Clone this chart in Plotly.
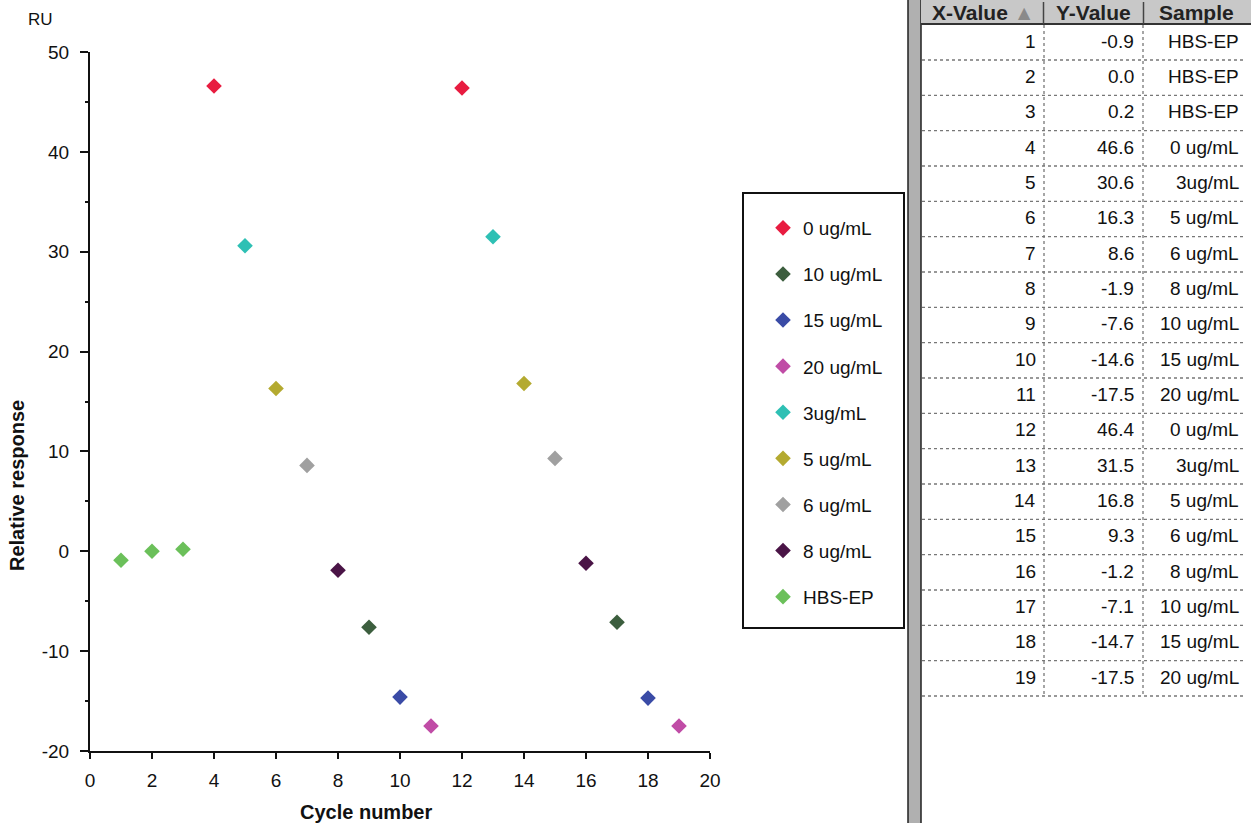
import plotly.graph_objects as go

# ---------------- data ----------------
cycle = [1, 2, 3, 4, 5, 6, 7, 8, 9, 10, 11, 12, 13, 14, 15, 16, 17, 18, 19]
response = [-0.9, 0.0, 0.2, 46.6, 30.6, 16.3, 8.6, -1.9, -7.6, -14.6, -17.5,
            46.4, 31.5, 16.8, 9.3, -1.2, -7.1, -14.7, -17.5]
sample = ["HBS-EP", "HBS-EP", "HBS-EP", "0 ug/mL", "3ug/mL", "5 ug/mL", "6 ug/mL",
          "8 ug/mL", "10 ug/mL", "15 ug/mL", "20 ug/mL", "0 ug/mL", "3ug/mL",
          "5 ug/mL", "6 ug/mL", "8 ug/mL", "10 ug/mL", "15 ug/mL", "20 ug/mL"]
legend_order = ["0 ug/mL", "10 ug/mL", "15 ug/mL", "20 ug/mL", "3ug/mL",
                "5 ug/mL", "6 ug/mL", "8 ug/mL", "HBS-EP"]
colors = {
    "0 ug/mL": "#e81c40",
    "10 ug/mL": "#3c5e3e",
    "15 ug/mL": "#3a4ba6",
    "20 ug/mL": "#c04ca6",
    "3ug/mL": "#2ec0b4",
    "5 ug/mL": "#b4aa30",
    "6 ug/mL": "#a0a0a0",
    "8 ug/mL": "#4a1446",
    "HBS-EP": "#6bc05a",
}
x_ticks = [0, 2, 4, 6, 8, 10, 12, 14, 16, 18, 20]
y_ticks = [-20, -10, 0, 10, 20, 30, 40, 50]
y_ticktext = ["-20", "-10", "0", "10", "20", "30", "40", "50"]
y_minor = [-15, -5, 5, 15, 25, 35, 45]
table_headers = ["X-Value <span style='color:#8a8a8a'>▲</span>", "Y-Value", "Sample"]

FONT = "Liberation Sans, Arial, sans-serif"
W, H = 1251, 823
L, R, T, B = 90, 710, 52, 751


def px(xp):
    return (xp - L) / (R - L)


def py(yp):
    return (B - yp) / (B - T)


fig = go.Figure()
for name in legend_order:
    xs = [c for c, s in zip(cycle, sample) if s == name]
    ys = [v for v, s in zip(response, sample) if s == name]
    fig.add_trace(go.Scatter(
        x=xs, y=ys, mode="markers", name=name, legendgroup=name,
        marker=dict(symbol="diamond", size=12, color=colors[name], line=dict(width=0)),
    ))

annotations = []
shapes = []


def ann(text, xp, yp, size, xanchor="center", angle=0, color="#111"):
    annotations.append(dict(text=text, x=px(xp), y=py(yp), xref="paper", yref="paper",
                            xanchor=xanchor, yanchor="middle", showarrow=False,
                            textangle=angle,
                            font=dict(family=FONT, size=size, color=color)))


# axis texts
ann("RU", 40, 20, 17)
ann("<b>Relative response</b>", 17, 486, 20, angle=-90)
ann("<b>Cycle number</b>", 366, 812, 20)

# legend box
shapes.append(dict(type="rect", xref="paper", yref="paper", x0=px(743), x1=px(904),
                   y0=py(193), y1=py(628), fillcolor="white",
                   line=dict(color="#111", width=2), layer="below"))

# ---------------- table ----------------
shapes.append(dict(type="rect", xref="paper", yref="paper", x0=px(908), x1=px(921),
                   y0=py(-2), y1=py(825), fillcolor="#b0b0b0",
                   line=dict(color="#202020", width=1.5)))
shapes.append(dict(type="rect", xref="paper", yref="paper", x0=px(921), x1=px(1252),
                   y0=py(-2), y1=py(24), fillcolor="#c8c8c8", line=dict(width=0)))
shapes.append(dict(type="line", xref="paper", yref="paper", x0=px(921), x1=px(1252),
                   y0=py(24), y1=py(24), line=dict(color="#333", width=2)))
for xc in (1043.5, 1143.5):
    shapes.append(dict(type="line", xref="paper", yref="paper", x0=px(xc), x1=px(xc),
                       y0=py(2), y1=py(24), line=dict(color="#444", width=1.5)))
header_x = [(924, 1042), (1046, 1140), (1146, 1246)]
for (a, b), h in zip(header_x, table_headers):
    ann("<b>" + h + "</b>", (a + b) / 2, 12, 21, color="#222")

row_h = (696 - 60) / 18
for i, (c, v, s) in enumerate(zip(cycle, response, sample)):
    yc = 41 + i * row_h
    for xr, txt in ((1038, str(c)), (1136, f"{v:.1f}"), (1241, s)):
        ann(txt, xr, yc, 19, xanchor="right")
    yl = 60 + i * row_h
    shapes.append(dict(type="line", xref="paper", yref="paper", x0=px(922), x1=px(1246),
                       y0=py(yl), y1=py(yl), line=dict(color="#777", width=1.3, dash="dot")))
for xc in (1044, 1143):
    shapes.append(dict(type="line", xref="paper", yref="paper", x0=px(xc), x1=px(xc),
                       y0=py(25), y1=py(696), line=dict(color="#777", width=1.3, dash="dot")))

axis_common = dict(showgrid=False, zeroline=False, showline=True, linecolor="#111",
                   linewidth=2, tickcolor="#111", tickwidth=2,
                   tickfont=dict(family=FONT, size=19, color="#111"))

fig.update_layout(
    width=W, height=H,
    margin=dict(l=L, r=W - R, t=T, b=H - B, pad=0),
    paper_bgcolor="white", plot_bgcolor="white",
    font=dict(family=FONT, size=19, color="#111"),
    xaxis=dict(range=[0, 20], tickvals=x_ticks, ticks="outside", ticklen=6,
               ticklabelstandoff=5, anchor="y", **axis_common),
    xaxis2=dict(range=[0, 20], tickvals=x_ticks, ticks="inside", ticklen=5,
                showticklabels=False, overlaying="x", anchor="y", showgrid=False,
                zeroline=False, showline=False, tickcolor="#111", tickwidth=2),
    yaxis=dict(range=[-20, 50], tickvals=y_ticks, ticktext=y_ticktext, ticks="outside",
               ticklen=8, ticklabelstandoff=7, anchor="x",
               minor=dict(ticks="outside", dtick=5, ticklen=3,
                          tickcolor="#111", tickwidth=1.5),
               **axis_common),
    yaxis2=dict(range=[-20, 50], tickvals=y_minor, ticks="inside", ticklen=3,
                showticklabels=False, overlaying="y", anchor="x", showgrid=False,
                zeroline=False, showline=False, tickcolor="#111", tickwidth=1.5),
    legend=dict(x=px(763), y=py(209), xanchor="left", yanchor="top",
                bgcolor="rgba(0,0,0,0)", borderwidth=0,
                font=dict(family=FONT, size=19, color="#111"),
                tracegroupgap=18.4, itemwidth=30),
    showlegend=True,
    annotations=annotations,
    shapes=shapes,
)

fig.write_html("out.html", config={"displayModeBar": False},
               post_script="document.body.style.margin='0';")
